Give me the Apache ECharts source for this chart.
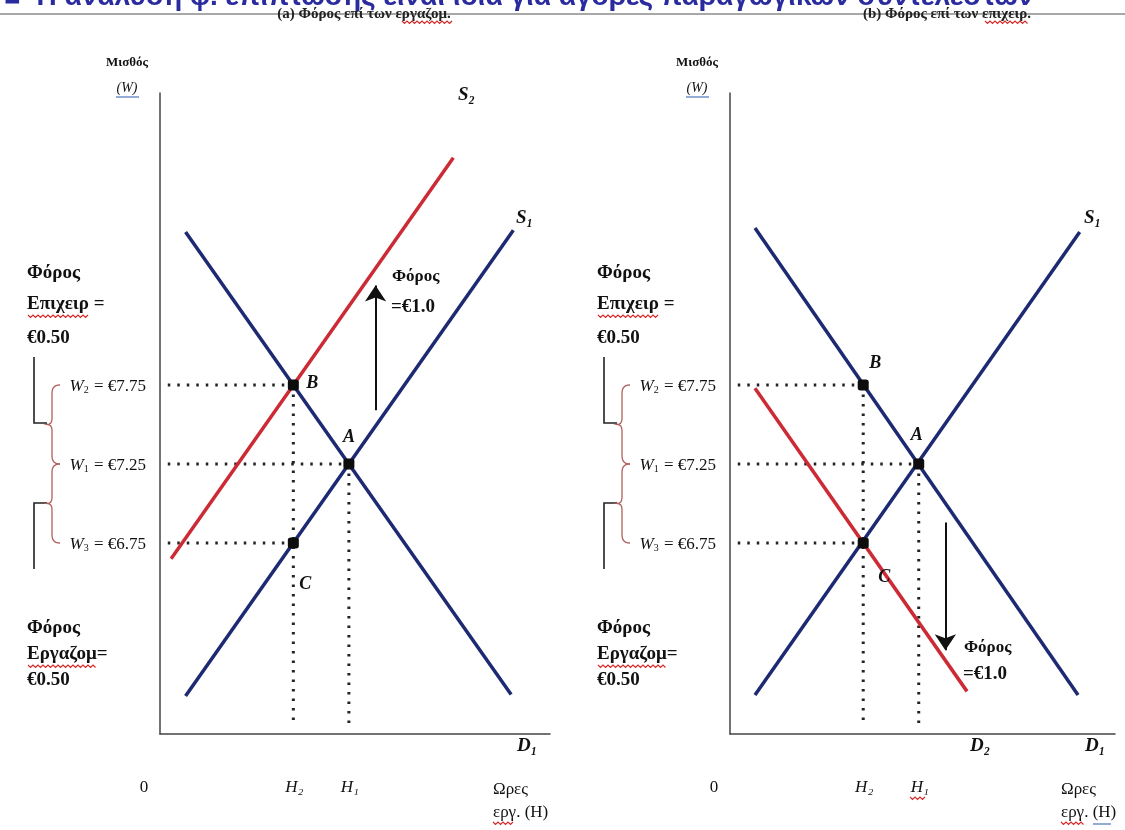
<!DOCTYPE html>
<html>
<head>
<meta charset="utf-8">
<script src="https://cdn.jsdelivr.net/npm/echarts@6/dist/echarts.min.js"></script>
<style>
html,body{margin:0;padding:0;background:#fff;}
#chart{width:1125px;height:830px;}
</style>
</head>
<body>
<div id="chart"></div>
<script>
// ---------- data ----------
const wageTicks = [7.75, 7.25, 6.75];
const wageTickSubs = ['2', '1', '3'];
const wageTickValues = ['€7.75', '€7.25', '€6.75'];
const hourTicks = [0, 1.2, 1.7];
const hourTickLabelsA = ['0', 'H₂', 'H₁'];
const hourTickLabelsB = ['0', 'H₂', 'H₁'];

// panel (a): tax on workers
const demandD1_a = [[0.23, 8.72], [3.16, 5.79]];
const supplyS1_a = [[0.23, 5.78], [3.18, 8.73]];
const supplyS2_a = [[0.10, 6.65], [2.64, 9.19]];
const pointNames = ['B', 'A', 'C'];
const pointsA = [[1.2, 7.75], [1.7, 7.25], [1.2, 6.75]];
const taxArrowA = [[1.94, 7.59], [1.94, 8.38]];

// panel (b): tax on firms
const demandD1_b = [[0.225, 8.745], [3.135, 5.787]];
const supplyS1_b = [[0.225, 5.787], [3.15, 8.72]];
const demandD2_b = [[0.225, 7.73], [2.135, 5.81]];
const pointsB = [[1.2, 7.75], [1.7, 7.25], [1.2, 6.75]];
const taxArrowB = [[1.94, 6.88], [1.94, 6.07]];

const dotStart = 0.07;
const dotBottom = 5.6;

// ---------- styles ----------
const NAVY = '#1d2a72';
const RED = '#cc2a35';
const SERIF = '"Liberation Serif", "DejaVu Serif", serif';

function curve(data, color, gi) {
  return {type: 'line', xAxisIndex: gi, yAxisIndex: gi, data: data, showSymbol: false, silent: true,
    lineStyle: {color: color, width: 3.5, cap: 'butt'}, z: 3};
}
function dotted(data, gi) {
  return {type: 'line', xAxisIndex: gi, yAxisIndex: gi, data: data, showSymbol: false, silent: true,
    lineStyle: {color: '#222', width: 3, type: [2.5, 7]}, z: 2};
}
function guides(points, gi) {
  const out = [];
  points.forEach(p => {
    out.push(dotted([[dotStart, p[1]], [p[0], p[1]]], gi));
    if (p[1] >= 7.25) out.push(dotted([[p[0], p[1]], [p[0], dotBottom]], gi));
  });
  return out;
}
function markers(points, offsets, gi) {
  return {type: 'scatter', xAxisIndex: gi, yAxisIndex: gi, symbol: 'roundRect', symbolSize: 11,
    itemStyle: {color: '#0d0d0d', opacity: 1}, z: 5, silent: true, clip: false,
    data: points.map((p, i) => ({value: p, label: {show: true, formatter: pointNames[i],
      position: 'inside', offset: offsets[i], fontFamily: SERIF, fontStyle: 'italic', fontWeight: 'bold',
      fontSize: 18, color: '#111', opacity: 1}}))};
}
function wageLabels(gi) {
  return {type: 'scatter', xAxisIndex: gi, yAxisIndex: gi, symbolSize: 0, clip: false, silent: true,
    itemStyle: {opacity: 1},
    data: wageTicks.map((w, i) => ({value: [0, w], label: {show: true,
      formatter: '{w|W}{s|' + wageTickSubs[i] + '}{t| = ' + wageTickValues[i] + '}',
      position: 'left', distance: 14, color: '#111', opacity: 1,
      rich: {
        w: {fontFamily: SERIF, fontStyle: 'italic', fontSize: 17, color: '#111', verticalAlign: 'bottom', lineHeight: 20},
        s: {fontFamily: SERIF, fontSize: 10, color: '#111', verticalAlign: 'bottom', lineHeight: 14, padding: [0, 1, 0, 0]},
        t: {fontFamily: SERIF, fontSize: 17, color: '#111', verticalAlign: 'bottom', lineHeight: 20}
      }}}))};
}
function hourLabels(labels, gi) {
  return {type: 'scatter', xAxisIndex: gi, yAxisIndex: gi, symbolSize: 0, clip: false, silent: true,
    itemStyle: {opacity: 1},
    data: hourTicks.map((h, i) => ({value: [h, 5.2], label: {show: true, formatter: labels[i],
      position: 'inside', offset: i === 0 ? [-16, 0] : [1, 0], opacity: 1,
      fontFamily: SERIF, fontStyle: i === 0 ? 'normal' : 'italic', fontSize: 17, color: '#111'}}))};
}
function arrow(coords, gi) {
  return {type: 'lines', coordinateSystem: 'cartesian2d', xAxisIndex: gi, yAxisIndex: gi, silent: true,
    symbol: ['none', 'arrow'], symbolSize: [8, 16], z: 4,
    lineStyle: {color: '#111', width: 2, opacity: 1},
    data: [{coords: coords}]};
}

// pointer offsets for A,B,C labels (pixels)
const offA = [[19, -2], [0, -27], [12, 41]];
const offB = [[12, -22], [-2, -29], [21, 34]];

function axisX(gi, max) {
  return {type: 'value', gridIndex: gi, min: 0, max: max, axisLine: {show: true, onZero: false,
    lineStyle: {color: '#444', width: 1.5}}, axisTick: {show: false}, axisLabel: {show: false}, splitLine: {show: false}};
}
function axisY(gi) {
  return {type: 'value', gridIndex: gi, min: 5.54, max: 9.6, axisLine: {show: true, onZero: false,
    lineStyle: {color: '#444', width: 1.5}}, axisTick: {show: false}, axisLabel: {show: false}, splitLine: {show: false}};
}

// ---------- annotation graphics ----------
const g = [];
function txt(x, y, s, font, opt) {
  g.push(Object.assign({type: 'text', x: x, y: y, silent: true, z: 10,
    style: Object.assign({text: s, font: font, fill: '#111', align: 'left', verticalAlign: 'middle'}, opt || {})}));
}
function quad(p0, c, p1, n) {
  const pts = [];
  for (let i = 0; i <= n; i++) {
    const t = i / n, u = 1 - t;
    pts.push([u * u * p0[0] + 2 * u * t * c[0] + t * t * p1[0], u * u * p0[1] + 2 * u * t * c[1] + t * t * p1[1]]);
  }
  return pts;
}
function brace(x, t, b) {
  const m = (t + b) / 2;
  return [].concat(
    quad([x + 8, t], [x, t], [x, t + 8], 6),
    quad([x, m - 6], [x, m], [x - 5, m], 4),
    quad([x - 5, m], [x, m], [x, m + 6], 4),
    quad([x, b - 8], [x, b], [x + 8, b], 6)
  );
}
function squiggle(x1, x2, y, color) {
  const pts = [];
  let k = 0;
  for (let x = x1; x <= x2; x += 2.5) { pts.push([x, y + (k % 2 ? 1.5 : -1)]); k++; }
  g.push({type: 'polyline', silent: true, z: 11, shape: {points: pts},
    style: {stroke: color || '#d42a2a', lineWidth: 1.2, fill: null}});
}
const BOLD = 'bold 19px ' + SERIF;
const ITB = 'italic bold 19px ' + SERIF;

// title strip (cut at top)
g.push({type: 'line', silent: true, shape: {x1: 0, y1: 14, x2: 1125, y2: 14},
  style: {stroke: '#a8a8a8', lineWidth: 2}});
txt(4, 11, '■  Η ανάλυση φ. επίπτωσης είναι ίδια για αγορές παραγωγικών συντελεστών',
  'bold 28px "Liberation Sans", Arial, sans-serif', {fill: '#2b2ba0', verticalAlign: 'bottom'});
txt(364, 14, '(a) Φόρος επί των εργαζομ.', 'bold 15px ' + SERIF, {align: 'center', fill: '#222'});
txt(947, 14, '(b) Φόρος επί των επιχειρ.', 'bold 15px ' + SERIF, {align: 'center', fill: '#222'});
squiggle(402, 452, 22);
squiggle(985, 1028, 22);

[0, 570].forEach(dx => {
  // y axis name
  txt(127 + dx, 63, 'Μισθός', 'bold 13px ' + SERIF, {align: 'center'});
  txt(127 + dx, 88, '(W)', 'italic 14px ' + SERIF, {align: 'center'});
  g.push({type: 'line', silent: true, shape: {x1: 116 + dx, y1: 97, x2: 139 + dx, y2: 97},
    style: {stroke: '#6f8fc8', lineWidth: 1.5}});
  // side notes
  txt(27 + dx, 273, 'Φόρος', BOLD);
  txt(27 + dx, 304, 'Επιχειρ =', BOLD);
  txt(27 + dx, 338, '€0.50', BOLD);
  txt(27 + dx, 628, 'Φόρος', BOLD);
  txt(27 + dx, 654, 'Εργαζομ=', BOLD);
  txt(27 + dx, 680, '€0.50', BOLD);
  squiggle(28 + dx, 90 + dx, 316);
  squiggle(28 + dx, 96 + dx, 666);
  // black brackets
  g.push({type: 'polyline', silent: true, shape: {points: [[34 + dx, 357], [34 + dx, 423], [47 + dx, 423]]},
    style: {stroke: '#222', lineWidth: 1.6, fill: null}});
  g.push({type: 'polyline', silent: true, shape: {points: [[47 + dx, 503], [34 + dx, 503], [34 + dx, 569]]},
    style: {stroke: '#222', lineWidth: 1.6, fill: null}});
  // red braces
  [[385, 464], [464, 543]].forEach(r => {
    g.push({type: 'polyline', silent: true, shape: {points: brace(52 + dx, r[0], r[1])},
      style: {stroke: '#b0605a', lineWidth: 1.3, fill: null}});
  });
  // x axis name
  txt(493 + dx + (dx ? -2 : 0), 790, 'Ωρες', '17px ' + SERIF);
  txt(493 + dx + (dx ? -2 : 0), 813, 'εργ. (H)', '17px ' + SERIF);
  squiggle(493 + dx + (dx ? -2 : 0), 515 + dx, 823);
});
squiggle(910, 926, 798);
g.push({type: 'line', silent: true, shape: {x1: 1093, y1: 824, x2: 1111, y2: 824},
  style: {stroke: '#6f8fc8', lineWidth: 1.5}});

// curve labels
txt(458, 95, 'S₂', ITB);
txt(516, 218, 'S₁', ITB);
txt(517, 746, 'D₁', ITB);
txt(1084, 218, 'S₁', ITB);
txt(970, 746, 'D₂', ITB);
txt(1085, 746, 'D₁', ITB);
// tax notes
txt(392, 277, 'Φόρος', 'bold 17px ' + SERIF);
txt(391, 307, '=€1.0', 'bold 19px ' + SERIF);
txt(964, 648, 'Φόρος', 'bold 17px ' + SERIF);
txt(963, 674, '=€1.0', 'bold 19px ' + SERIF);

const series = [
  curve(demandD1_a, NAVY, 0), curve(supplyS1_a, NAVY, 0), curve(supplyS2_a, RED, 0),
  curve(demandD1_b, NAVY, 1), curve(supplyS1_b, NAVY, 1), curve(demandD2_b, RED, 1),
  ...guides(pointsA, 0), ...guides(pointsB, 1),
  markers(pointsA, offA, 0), markers(pointsB, offB, 1),
  wageLabels(0), wageLabels(1),
  hourLabels(hourTickLabelsA, 0), hourLabels(hourTickLabelsB, 1),
  arrow(taxArrowA, 0), arrow(taxArrowB, 1)
];

const chart = echarts.init(document.getElementById('chart'), null, {renderer: 'canvas'});
chart.setOption({
  animation: false,
  backgroundColor: '#fff',
  grid: [
    {left: 160, top: 93, width: 390, height: 641},
    {left: 730, top: 93, width: 385, height: 641}
  ],
  xAxis: [axisX(0, 3.51), axisX(1, 3.468)],
  yAxis: [axisY(0), axisY(1)],
  series: series,
  graphic: g
});
</script>
</body>
</html>
